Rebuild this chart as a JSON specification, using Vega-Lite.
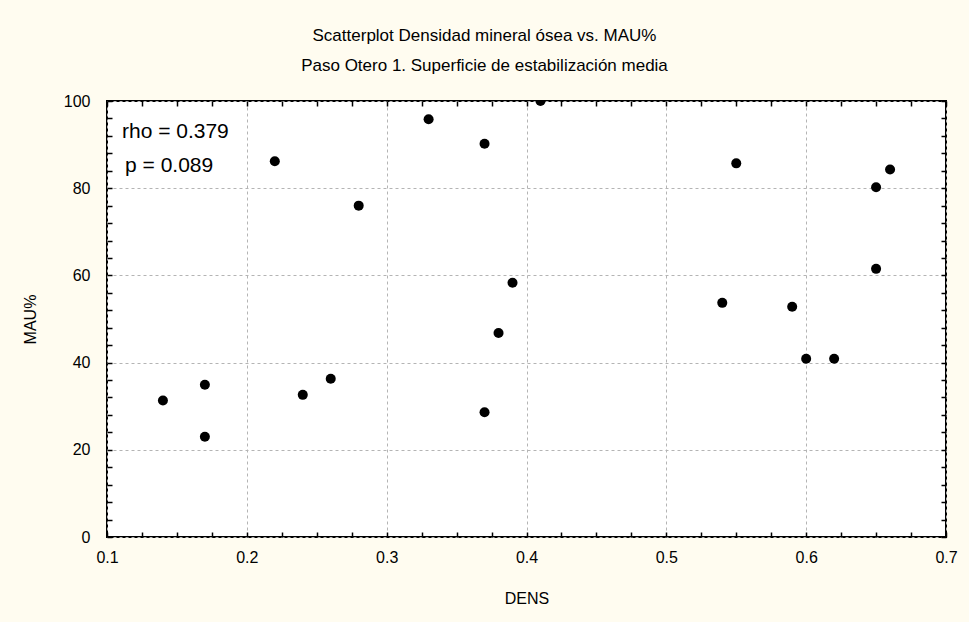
{
  "$schema": "https://vega.github.io/schema/vega-lite/v6.json",
  "autosize": {"type": "none"},
  "width": 839,
  "height": 436,
  "padding": {"left": 107, "top": 101, "right": 23, "bottom": 85},
  "background": "#fffcf0",
  "config": {
    "font": "Liberation Sans",
    "view": {"stroke": "#000000", "strokeWidth": 2, "fill": "#ffffff"},
    "axis": {"labelColor": "#000000", "titleColor": "#000000", "titleFontWeight": "normal", "labelFont": "Liberation Sans", "titleFont": "Liberation Sans"}
  },
  "title": {
    "text": "Scatterplot Densidad mineral ósea vs. MAU%",
    "subtitle": "Paso Otero 1. Superficie de estabilización media",
    "fontSize": 17,
    "subtitleFontSize": 17,
    "fontWeight": "normal",
    "font": "Liberation Sans",
    "subtitleFont": "Liberation Sans",
    "color": "#000000",
    "subtitleColor": "#000000",
    "anchor": "middle",
    "frame": "group",
    "dx": -42,
    "offset": 18,
    "subtitlePadding": 13
  },
  "data": {
    "values": [
      {"DENS": 0.14, "MAU": 31.3},
      {"DENS": 0.17, "MAU": 34.9},
      {"DENS": 0.17, "MAU": 23.0},
      {"DENS": 0.22, "MAU": 86.2},
      {"DENS": 0.24, "MAU": 32.6},
      {"DENS": 0.26, "MAU": 36.3},
      {"DENS": 0.28, "MAU": 76.0},
      {"DENS": 0.33, "MAU": 95.8},
      {"DENS": 0.37, "MAU": 90.2},
      {"DENS": 0.37, "MAU": 28.6},
      {"DENS": 0.38, "MAU": 46.8},
      {"DENS": 0.39, "MAU": 58.3},
      {"DENS": 0.41, "MAU": 100},
      {"DENS": 0.54, "MAU": 53.7},
      {"DENS": 0.55, "MAU": 85.7},
      {"DENS": 0.59, "MAU": 52.8},
      {"DENS": 0.60, "MAU": 40.9},
      {"DENS": 0.62, "MAU": 40.9},
      {"DENS": 0.65, "MAU": 80.2},
      {"DENS": 0.65, "MAU": 61.5},
      {"DENS": 0.66, "MAU": 84.3}
    ]
  },
  "layer": [
    {
      "mark": {"type": "point", "opacity": 0},
      "encoding": {
        "x": {"field": "DENS", "type": "quantitative", "scale": {"domain": [0.1, 0.7], "nice": false, "zero": false},
          "axis": {"orient": "bottom", "values": [0.1, 0.2, 0.3, 0.4, 0.5, 0.6, 0.7], "format": ".1f", "grid": true, "gridDash": [3, 3], "gridColor": "#b4b4b4", "gridWidth": 1, "ticks": false, "domain": false, "labelFontSize": 16, "labelPadding": 12, "labelFlush": false, "title": "DENS", "titleFontSize": 16, "titlePadding": 25}},
        "y": {"field": "MAU", "type": "quantitative", "scale": {"domain": [0, 100], "nice": false, "zero": true},
          "axis": {"orient": "left", "values": [0, 20, 40, 60, 80, 100], "grid": true, "gridDash": [3, 3], "gridColor": "#b4b4b4", "gridWidth": 1, "ticks": false, "domain": false, "labelFontSize": 16, "labelPadding": 17, "labelFlush": false, "title": "MAU%", "titleFontSize": 16, "titlePadding": 25}}
      }
    },
    {
      "mark": {"type": "point", "opacity": 0},
      "encoding": {
        "x": {"field": "DENS", "type": "quantitative",
          "axis": {"orient": "bottom", "offset": -5, "values": [0.1, 0.125, 0.15, 0.175, 0.2, 0.225, 0.25, 0.275, 0.3, 0.325, 0.35, 0.375, 0.4, 0.425, 0.45, 0.475, 0.5, 0.525, 0.55, 0.575, 0.6, 0.625, 0.65, 0.675, 0.7], "labels": false, "grid": false, "domain": false, "ticks": true, "tickSize": 5, "tickWidth": 1.5, "tickColor": "#000000", "title": null}},
        "y": {"field": "MAU", "type": "quantitative",
          "axis": {"orient": "left", "offset": -5, "values": [0, 4, 8, 12, 16, 20, 24, 28, 32, 36, 40, 44, 48, 52, 56, 60, 64, 68, 72, 76, 80, 84, 88, 92, 96, 100], "labels": false, "grid": false, "domain": false, "ticks": true, "tickSize": 5, "tickWidth": 1.5, "tickColor": "#000000", "title": null}}
      }
    },
    {
      "mark": {"type": "point", "opacity": 0},
      "encoding": {
        "x": {"field": "DENS", "type": "quantitative",
          "axis": {"orient": "top", "offset": -5, "values": [0.1, 0.125, 0.15, 0.175, 0.2, 0.225, 0.25, 0.275, 0.3, 0.325, 0.35, 0.375, 0.4, 0.425, 0.45, 0.475, 0.5, 0.525, 0.55, 0.575, 0.6, 0.625, 0.65, 0.675, 0.7], "labels": false, "grid": false, "domain": false, "ticks": true, "tickSize": 5, "tickWidth": 1.5, "tickColor": "#000000", "title": null}},
        "y": {"field": "MAU", "type": "quantitative",
          "axis": {"orient": "right", "offset": -5, "values": [0, 4, 8, 12, 16, 20, 24, 28, 32, 36, 40, 44, 48, 52, 56, 60, 64, 68, 72, 76, 80, 84, 88, 92, 96, 100], "labels": false, "grid": false, "domain": false, "ticks": true, "tickSize": 5, "tickWidth": 1.5, "tickColor": "#000000", "title": null}}
      }
    },
    {
      "mark": {"type": "circle", "color": "#000000", "opacity": 1, "size": 100, "clip": true},
      "encoding": {
        "x": {"field": "DENS", "type": "quantitative", "axis": null},
        "y": {"field": "MAU", "type": "quantitative", "axis": null}
      }
    },
    {
      "data": {
        "values": [
          {"DENS": 0.1107, "MAU": 92.9, "label": "rho = 0.379"},
          {"DENS": 0.1129, "MAU": 85.0, "label": "p = 0.089"}
        ]
      },
      "mark": {"type": "text", "align": "left", "baseline": "middle", "fontSize": 21, "font": "Liberation Sans", "color": "#000000"},
      "encoding": {
        "x": {"field": "DENS", "type": "quantitative", "axis": null},
        "y": {"field": "MAU", "type": "quantitative", "axis": null},
        "text": {"field": "label"}
      }
    }
  ],
  "resolve": {"axis": {"x": "independent", "y": "independent"}}
}
